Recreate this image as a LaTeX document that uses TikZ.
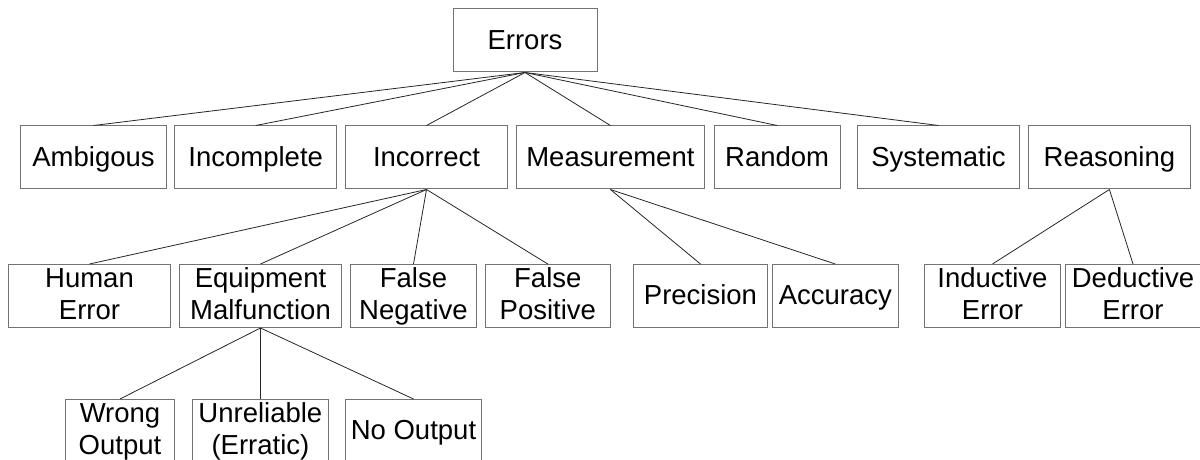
\documentclass[tikz,border=0pt]{standalone}
\usepackage{fontspec}
\setmainfont{Liberation Sans}
\begin{document}
\begin{tikzpicture}[x=1bp,y=-1bp,
  box/.style={draw=black!55,line width=1bp,rectangle,inner sep=0pt,
    minimum height=63bp,align=center,
    font=\fontsize{27.5bp}{32bp}\selectfont},
  oneline/.style={text height=18bp,text depth=0bp},
  twoline/.style={text height=47bp,text depth=0bp},
  link/.style={draw=black!85,line width=0.8bp}]
\useasboundingbox (0,0) rectangle (1200,460);
\clip (0,0) rectangle (1200,460);
% root
\node[box,oneline,minimum width=144bp] (errors) at (525,40.5) {Errors};
% first level
\node[box,oneline,minimum width=145bp]   (amb)   at (93.5,157.5)  {Ambigous};
\node[box,oneline,minimum width=162.5bp] (incp)  at (255.7,157.5) {Incomplete};
\node[box,oneline,minimum width=162bp]   (incor) at (426.5,157.5) {Incorrect};
\node[box,oneline,minimum width=188bp]   (meas)  at (610.4,157.5) {Measurement};
\node[box,oneline,minimum width=125.6bp] (rand)  at (777.2,157.5) {Random};
\node[box,oneline,minimum width=162bp]   (sys)   at (938.5,157.5) {Systematic};
\node[box,oneline,minimum width=162bp]   (reas)  at (1109.4,157.5) {Reasoning};
% second level
\node[box,twoline,minimum width=162bp] (human)  at (89.5,296)  {Human\\Error};
\node[box,twoline,minimum width=162bp] (equip)  at (260.5,296) {Equipment\\Malfunction};
\node[box,twoline,minimum width=126bp] (fneg)   at (413.5,296) {False\\Negative};
\node[box,twoline,minimum width=125bp] (fpos)   at (547.8,296) {False\\Positive};
\node[box,oneline,minimum width=134bp] (prec)   at (700.5,296) {Precision};
\node[box,oneline,minimum width=126bp] (acc)    at (835.3,296) {Accuracy};
\node[box,twoline,minimum width=136bp] (induct) at (992.5,296) {Inductive\\Error};
\node[box,twoline,minimum width=136bp] (deduct) at (1133,296)  {Deductive\\Error};
% third level
\node[box,twoline,minimum width=109bp]   (wrong) at (120,431)   {Wrong\\Output};
\node[box,twoline,minimum width=136.6bp] (unrel) at (260.4,431) {Unreliable\\(Erratic)};
\node[box,oneline,minimum width=136bp]   (noout) at (413.5,431) {No Output};
% connectors
\foreach \c in {amb,incp,incor,meas,rand,sys}
  \draw[link] (errors.south) -- (\c.north);
\foreach \c in {human,equip,fneg,fpos}
  \draw[link] (incor.south) -- (\c.north);
\foreach \c in {prec,acc}
  \draw[link] (meas.south) -- (\c.north);
\foreach \c in {induct,deduct}
  \draw[link] (reas.south) -- (\c.north);
\foreach \c in {wrong,unrel,noout}
  \draw[link] (equip.south) -- (\c.north);
\end{tikzpicture}
\end{document}
